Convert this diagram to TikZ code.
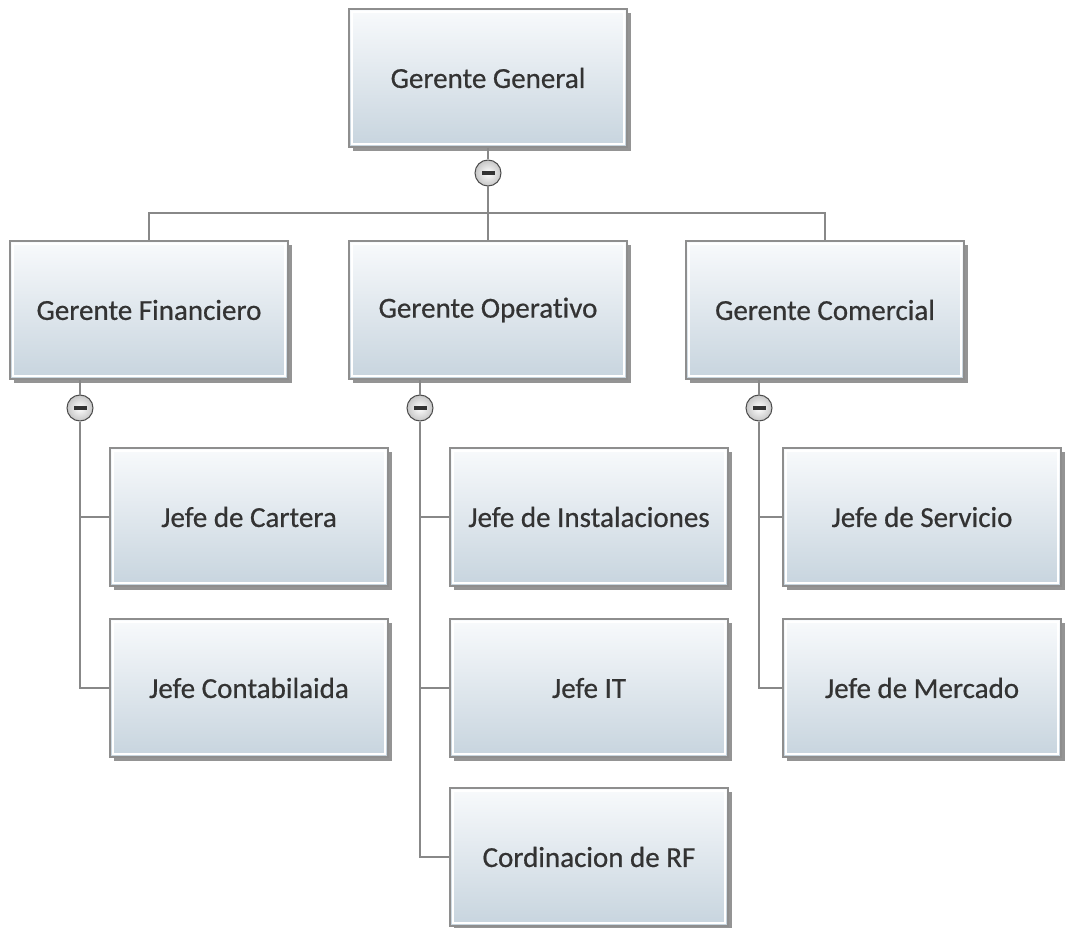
\documentclass[tikz,border=0pt]{standalone}
\usepackage{fontspec}
\setmainfont{Carlito}[Ligatures=NoCommon]
\newfontfamily\cargofont{Carlito}[Ligatures=NoCommon, RawFeature={embolden=0.6}]
\usetikzlibrary{shadows}
\definecolor{boxtop}{HTML}{F8FAFC}
\definecolor{boxbot}{HTML}{C7D4DE}
\definecolor{boxline}{HTML}{8E8E8E}
\definecolor{conline}{HTML}{888888}
\definecolor{txtgray}{HTML}{333333}
\tikzset{
cargo/.style = {rectangle, minimum width = 278pt, minimum height = 138pt, draw = boxline, line width = 1.5pt,
  top color = boxtop, bottom color = boxbot, text = txtgray, font = \cargofont\fontsize{29}{32}\selectfont,
  drop shadow = {shadow xshift = 4pt, shadow yshift = -4pt, fill = black!70, opacity = 0.6},
  path picture = {\draw[white, line width = 2pt] ([shift={(3pt,-3pt)}]path picture bounding box.north west)
    rectangle ([shift={(-3pt,3pt)}]path picture bounding box.south east);}},
colapso/.style = {circle, minimum size = 26pt, inner sep = 0pt, draw = gray!60!black, line width = 1pt,
  inner color = white, outer color = gray!45,
  path picture = {\fill[black!80] ([shift={(-6.5pt,-2pt)}]path picture bounding box.center)
    rectangle ([shift={(6.5pt,2pt)}]path picture bounding box.center);}},
conn/.style = {line width = 1.5pt, color = conline}}

\begin{document}
\begin{tikzpicture}[x=1pt, y=-1pt]
\useasboundingbox (0,0) rectangle (1069,928);
%
%''''''''''''''''''''''''''''rows and columns''''''''''''''''''''''''''''''''
\def\ytop{78}   % row of the general manager
\def\ymid{310}  % row of the managers
\def\yone{517}  % first row of heads
\def\ytwo{688}  % second row of heads
\def\ythr{857}  % third row of heads
\def\ybus{213}  % horizontal bus
\def\ycol{408}  % collapse buttons of the managers
%''''''''''''''''''''''''''''''''''''''''''''''''''''''''''''''''''''''''''''
%
% general manager
\node[cargo] (gg) at (488,\ytop) {Gerente General};
%
% managers
\node[cargo] (gf) at (149,\ymid) {Gerente Financiero};
\node[cargo] (go) at (488,\ymid) {Gerente Operativo};
\node[cargo] (gc) at (825,\ymid) {Gerente Comercial};
%
% heads
\node[cargo] (jcar) at (249,\yone) {Jefe de Cartera};
\node[cargo] (jcon) at (249,\ytwo) {Jefe Contabilaida};
\node[cargo] (jins) at (589,\yone) {Jefe de Instalaciones};
\node[cargo] (jit)  at (589,\ytwo) {Jefe IT};
\node[cargo] (jrf)  at (589,\ythr) {Cordinacion de RF};
\node[cargo] (jser) at (922,\yone) {Jefe de Servicio};
\node[cargo] (jmer) at (922,\ytwo) {Jefe de Mercado};
%
% collapse buttons
\node[colapso] (cgg) at (488,173) {};
\node[colapso] (cgf) at (80,\ycol) {};
\node[colapso] (cgo) at (420,\ycol) {};
\node[colapso] (cgc) at (759,\ycol) {};
%
%----------------------------------------------------------------------------
% connectors of the first level
\coordinate (bus) at (488,\ybus);
\draw[conn] (gg) -- (cgg);
\draw[conn] (cgg) -- (bus);
\draw[conn] (gf.north) |- (bus) -| (gc.north);
\draw[conn] (bus) -- (go.north);
%
% connectors of the second level
\draw[conn] (cgf) -- (cgf |- gf.south);
\draw[conn] (cgf) |- (jcar.west);
\draw[conn] (cgf) |- (jcon.west);
%
\draw[conn] (cgo) -- (cgo |- go.south);
\draw[conn] (cgo) |- (jins.west);
\draw[conn] (cgo) |- (jit.west);
\draw[conn] (cgo) |- (jrf.west);
%
\draw[conn] (cgc) -- (cgc |- gc.south);
\draw[conn] (cgc) |- (jser.west);
\draw[conn] (cgc) |- (jmer.west);
%----------------------------------------------------------------------------
%
\end{tikzpicture}
\end{document}
